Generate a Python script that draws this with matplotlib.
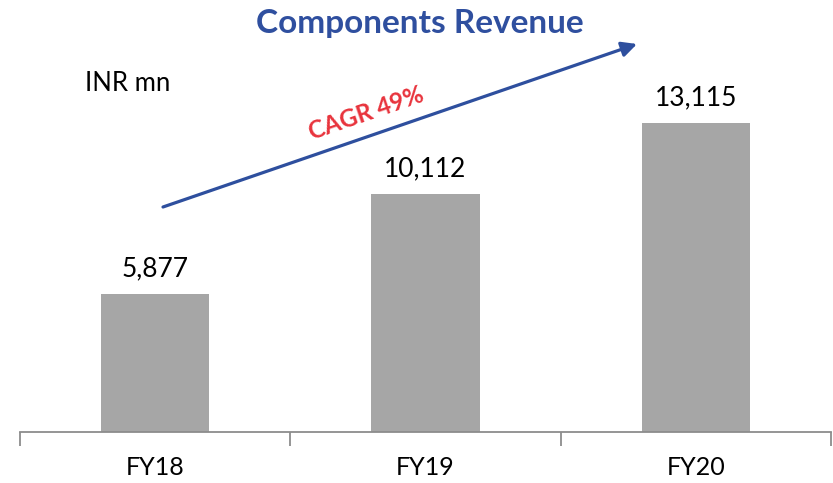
import matplotlib
matplotlib.use("Agg")
import matplotlib.pyplot as plt
import numpy as np

categories = ["FY18", "FY19", "FY20"]
values = [5877, 10112, 13115]
value_labels = ["5,877", "10,112", "13,115"]
title = "Components Revenue"
unit_label = "INR mn"
cagr_label = "CAGR 49%"

W, H = 833, 483
fig = plt.figure(figsize=(W / 100, H / 100), dpi=100)
plt.rcParams['font.family'] = ['Lato', 'DejaVu Sans']

def fx(px):
    return px / W

def fy(py):
    return 1 - py / H

ax = fig.add_axes([fx(20), fy(432), (831 - 20) / W, 432 / H])
x = np.arange(len(categories))
ax.bar(x, values, width=0.4, color="#A6A6A6", zorder=2)
ax.set_xlim(-0.5, len(categories) - 0.5)
ax.set_ylim(0, 432 / 0.02356)

for s in ["top", "right", "left"]:
    ax.spines[s].set_visible(False)
ax.spines["bottom"].set_color("#8C8C8C")
ax.spines["bottom"].set_linewidth(1.3)
ax.set_yticks([])
ax.set_xticks(x)
ax.set_xticklabels(categories, fontsize=18, color="#000000")
ax.tick_params(axis="x", which="major", length=0, pad=17)
ax.set_xticks(np.arange(-0.5, len(categories)), minor=True)
ax.tick_params(axis="x", which="minor", length=10, width=1.3, color="#8C8C8C")

for xi, v, lab in zip(x, values, value_labels):
    ax.annotate(lab, (xi, v), xytext=(0, 9), textcoords="offset points",
                ha="center", va="bottom", fontsize=19, color="#000000")

fig.text(fx(420), fy(23), title, ha="center", va="center", fontsize=24,
         fontweight="bold", color="#2F4F9F")
fig.text(fx(85), fy(83), unit_label, ha="left", va="center", fontsize=18.5, color="#000000")

ax_over = fig.add_axes([0, 0, 1, 1], facecolor="none")
ax_over.set_xlim(0, W)
ax_over.set_ylim(H, 0)
ax_over.axis("off")
ax_over.annotate("", xy=(637, 44), xytext=(163, 207),
                 arrowprops=dict(arrowstyle="-|>,head_length=0.9,head_width=0.45",
                                 color="#2E4F9E", lw=2.3, shrinkA=0, shrinkB=0))
ax_over.text(366, 113, cagr_label, ha="center", va="center", rotation=19,
             rotation_mode="anchor", fontsize=17.5, fontweight="bold", color="#E8333C")

fig.savefig("out.png", dpi=100)
